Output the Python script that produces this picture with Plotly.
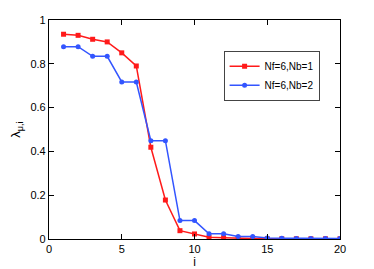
import plotly.graph_objects as go

i_vals = list(range(1, 21))
nb1 = [0.935, 0.93, 0.912, 0.90, 0.85, 0.79, 0.419, 0.178, 0.038, 0.023,
       0.008, 0.006, 0.003, 0.002, 0.001, 0.001, 0.001, 0.001, 0.001, 0.001]
nb2 = [0.878, 0.878, 0.834, 0.834, 0.717, 0.717, 0.449, 0.449, 0.084, 0.084,
       0.024, 0.024, 0.011, 0.011, 0.004, 0.003, 0.002, 0.002, 0.002, 0.002]
names = ["Nf=6,Nb=1", "Nf=6,Nb=2"]
x_ticks = [0, 5, 10, 15, 20]
y_ticks = [0, 0.2, 0.4, 0.6, 0.8, 1]
y_ticktext = ["0", "0.2", "0.4", "0.6", "0.8", "1"]

fig = go.Figure()
fig.add_trace(go.Scatter(x=i_vals, y=nb1, mode="lines+markers", name=names[0],
                         line=dict(color="#ff1a1a", width=1.5),
                         marker=dict(symbol="square", size=5, color="#ff1a1a")))
fig.add_trace(go.Scatter(x=i_vals, y=nb2, mode="lines+markers", name=names[1],
                         line=dict(color="#3355ff", width=1.5),
                         marker=dict(symbol="circle", size=5, color="#3355ff")))

axis_common = dict(showgrid=False, zeroline=False, showline=True, linecolor="black",
                   linewidth=1.2, mirror="allticks", ticks="inside", ticklen=5,
                   tickcolor="black", automargin=False,
                   tickfont=dict(family="Liberation Sans, Arial", size=11, color="black"))

# page body has an 8px default margin, so the figure is sized to fit the window
fig.update_layout(
    width=366, height=261,
    margin=dict(l=41, r=34, t=12, b=30, autoexpand=False),
    paper_bgcolor="white", plot_bgcolor="white",
    font=dict(family="Liberation Sans, Arial", size=11, color="black"),
    xaxis=dict(range=[0, 20], tickvals=x_ticks,
               title=dict(text="i", standoff=3, font=dict(size=12, color="black")), **axis_common),
    yaxis=dict(range=[0, 1], tickvals=y_ticks, ticktext=y_ticktext,
               title=dict(text="λ<sub>μ,i</sub>", standoff=12, font=dict(size=13, color="black")), **axis_common),
    legend=dict(x=0.60, y=0.86, xanchor="left", yanchor="top",
                bordercolor="#444", borderwidth=1, bgcolor="white",
                font=dict(size=10), itemwidth=30, tracegroupgap=0),
    showlegend=True,
)

fig.write_html("out.html")
